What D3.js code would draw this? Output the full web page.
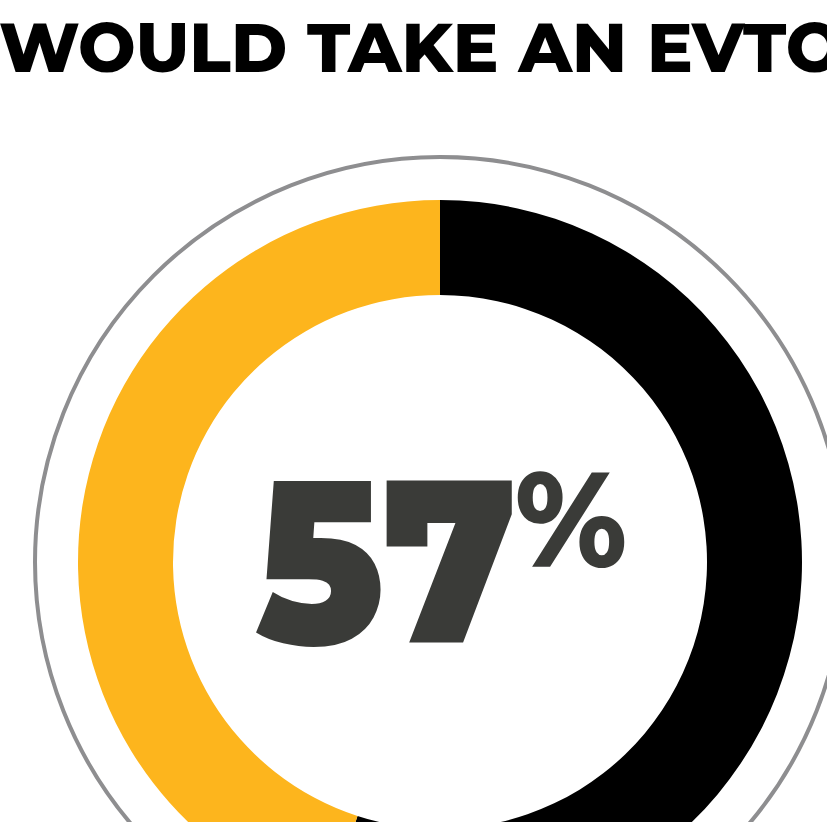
<!DOCTYPE html>
<html>
<head>
<meta charset="utf-8">
<script src="https://cdn.jsdelivr.net/npm/d3@7"></script>
<style>
  html, body { margin: 0; padding: 0; background: #fff; overflow: hidden; }
  svg { display: block; }
</style>
</head>
<body>
<script>
// data
var answers = ["Would take an eVTOL", "Would not"];
var shares = [55, 45];
var bigLabel = "57";
var titleText = "WOULD TAKE AN EVTOL";

var width = 827, height = 822;
var cx = 440, cy = 562;

var svg = d3.select("body").append("svg")
    .attr("width", width)
    .attr("height", height);

var color = d3.scaleOrdinal()
    .domain(answers)
    .range(["#000000", "#fdb51d"]);

// title, cut off at both sides like the original
svg.append("text")
    .attr("x", -1)
    .attr("y", 72)
    .attr("textLength", 886)
    .attr("lengthAdjust", "spacingAndGlyphs")
    .style("font-family", "Montserrat, 'Open Sans', Lato, sans-serif")
    .style("font-weight", 800)
    .style("font-size", "68px")
    .style("fill", "#000")
    .text(titleText);

var g = svg.append("g")
    .attr("transform", "translate(" + cx + "," + cy + ")");

// thin grey ring round the donut
g.append("circle")
    .attr("r", 405)
    .style("fill", "none")
    .style("stroke", "#8e8e90")
    .style("stroke-width", 4);

var pie = d3.pie()
    .sort(null)
    .value(function (d) { return d; });

var arc = d3.arc()
    .innerRadius(267)
    .outerRadius(362);

var arcs = pie(shares);
g.selectAll("path.slice")
    .data(arcs)
    .enter()
    .append("path")
    .attr("class", "slice")
    .attr("d", arc)
    .style("fill", function (d, i) { return color(answers[i]); });

// big number
svg.append("text")
    .attr("x", 255)
    .attr("y", 643)
    .attr("textLength", 262)
    .attr("lengthAdjust", "spacingAndGlyphs")
    .style("font-family", "Montserrat, 'Open Sans', Lato, sans-serif")
    .style("font-weight", 900)
    .style("font-size", "232px")
    .style("fill", "#3a3b38")
    .text(bigLabel);

svg.append("text")
    .attr("x", 515)
    .attr("y", 567)
    .attr("textLength", 112)
    .attr("lengthAdjust", "spacingAndGlyphs")
    .style("font-family", "Montserrat, 'Open Sans', Lato, sans-serif")
    .style("font-weight", 800)
    .style("font-size", "134px")
    .style("fill", "#3a3b38")
    .text("%");
</script>
</body>
</html>
